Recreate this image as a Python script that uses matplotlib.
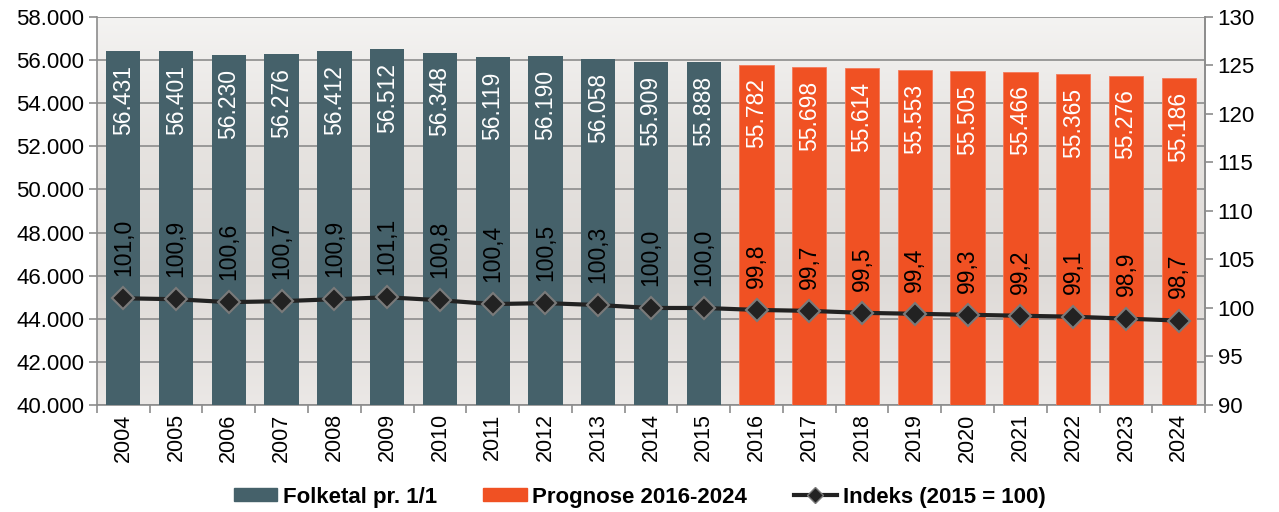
import numpy as np
import matplotlib
matplotlib.use("Agg")
import matplotlib.pyplot as plt
from matplotlib.colors import LinearSegmentedColormap
from matplotlib.patches import Patch
from matplotlib.lines import Line2D

plt.rcParams['font.family'] = ['Liberation Sans', 'DejaVu Sans']

years = list(range(2004, 2025))
folketal = [56431, 56401, 56230, 56276, 56412, 56512, 56348, 56119, 56190, 56058, 55909, 55888]
prognose = [55782, 55698, 55614, 55553, 55505, 55466, 55365, 55276, 55186]
indeks = [101.0, 100.9, 100.6, 100.7, 100.9, 101.1, 100.8, 100.4, 100.5, 100.3, 100.0, 100.0,
          99.8, 99.7, 99.5, 99.4, 99.3, 99.2, 99.1, 98.9, 98.7]

c_dark = '#45616a'
c_orange = '#f05123'
c_grid = '#8c8c8c'

fig = plt.figure(figsize=(12.79, 5.12), dpi=100)
ax = fig.add_axes([0.0758, 0.209, 0.8664, 0.758])

x = np.arange(len(years))
x_hist = x[:len(folketal)]
x_prog = x[len(folketal):]

# background gradient
grad = LinearSegmentedColormap.from_list('bg', ['#ebe8e6', '#dedad7', '#e6e3e0', '#f4f3f2'])
ax.imshow(np.linspace(0, 1, 256).reshape(-1, 1), cmap=grad, aspect='auto', origin='lower',
          extent=[-0.5, len(years) - 0.5, 40000, 58000], zorder=0)

ax.bar(x_hist, folketal, width=0.65, color=c_dark, zorder=3)
ax.bar(x_prog, prognose, width=0.65, color=c_orange, edgecolor='#f47a5a', linewidth=0.6, zorder=3)

for xi, v in zip(x, folketal + prognose):
    ax.annotate(f"{v:,}".replace(',', '.'), (xi, v), xytext=(0, -10), textcoords='offset points',
                rotation=90, ha='center', va='top', color='white', fontsize=16.5, zorder=5)

ax.set_xlim(-0.5, len(years) - 0.5)
ax.set_ylim(40000, 58000)
ax.set_yticks(range(40000, 58001, 2000))
ax.set_yticklabels([f"{v:,}".replace(',', '.') for v in range(40000, 58001, 2000)], fontsize=16)
ax.yaxis.grid(True, color=c_grid, linewidth=1.2, zorder=1)
ax.set_axisbelow(False)
ax.set_xticks(x)
ax.set_xticklabels([str(y) for y in years], rotation=90, fontsize=15.5)
ax.set_xticks(np.arange(-0.5, len(years), 1), minor=True)
ax.tick_params(axis='x', which='major', length=0, pad=6)
ax.tick_params(axis='x', which='minor', length=6, color=c_grid, width=1.2)
ax.tick_params(axis='y', length=6, color=c_grid, width=1.2, pad=3)
ax.spines['top'].set_visible(False)
for s in ['left', 'bottom', 'right']:
    ax.spines[s].set_color(c_grid)
    ax.spines[s].set_linewidth(1.2)

ax2 = ax.twinx()
ax2.set_ylim(90, 130)
ax2.set_yticks(range(90, 131, 5))
ax2.tick_params(axis='y', length=6, color=c_grid, width=1.2, labelsize=16, pad=3)
for s in ['top', 'left', 'bottom']:
    ax2.spines[s].set_visible(False)
ax2.spines['right'].set_color(c_grid)
ax2.spines['right'].set_linewidth(1.2)
ax2.plot(x, indeks, color='#222222', linewidth=3, marker='D', markersize=11,
         markerfacecolor='#222222', markeredgecolor='#7a7a7a', markeredgewidth=1.5, zorder=4)
for xi, v in zip(x, indeks):
    ax2.annotate(f"{v:.1f}".replace('.', ','), (xi, v), xytext=(0, 16), textcoords='offset points',
                 rotation=90, ha='center', va='bottom', color='black', fontsize=16.5)

handles = [Patch(color=c_dark), Patch(color=c_orange),
           Line2D([0], [0], color='#222222', linewidth=3, marker='D', markersize=8,
                  markerfacecolor='#222222', markeredgecolor='#7a7a7a')]
labels = ['Folketal pr. 1/1', 'Prognose 2016-2024', 'Indeks (2015 = 100)']
fig.legend(handles, labels, loc='center', bbox_to_anchor=(0.5, 0.029), ncol=3, frameon=False,
           prop={'weight': 'bold', 'size': 16},
           handlelength=1.95, handleheight=0.55, columnspacing=2.1, handletextpad=0.25)

fig.savefig('out.png', dpi=100)
